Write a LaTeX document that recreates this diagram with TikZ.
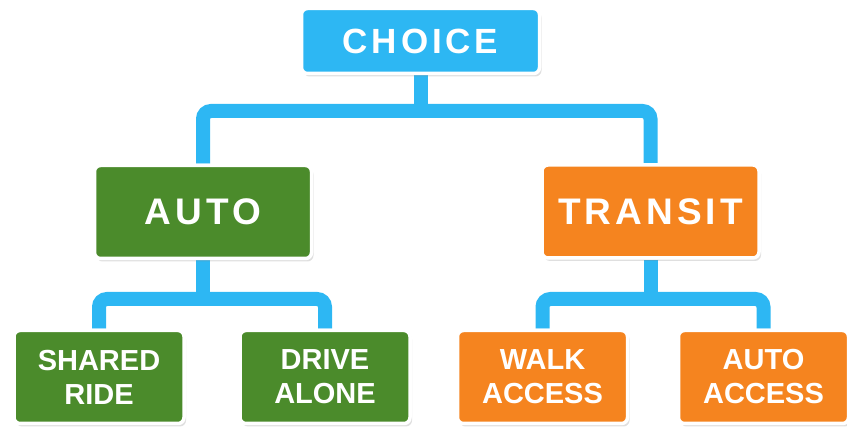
\documentclass[tikz,border=0pt]{standalone}
\usepackage{fontspec}
\setmainfont{Liberation Sans}
\newfontfamily\spaced{Liberation Sans}[LetterSpace=11]
\usetikzlibrary{backgrounds,shadows}
\definecolor{Sky}{HTML}{2DB7F3}
\definecolor{Leaf}{HTML}{4B8B2B}
\definecolor{Amber}{HTML}{F5841F}

\begin{document}
\begin{tikzpicture}[x=1pt,y=-1pt,
    box/.style={draw=white,line width=3.5pt,rounded corners=6pt,text=white,align=center,inner sep=0pt,
      drop shadow={opacity=.25,shadow xshift=2pt,shadow yshift=-3pt}},
    big/.style={box,minimum width=217pt,minimum height=93pt,font=\spaced\bfseries\fontsize{37}{44}\selectfont},
    small/.style={box,minimum width=170pt,minimum height=93pt,font=\bfseries\fontsize{29}{34}\selectfont},
    link/.style={draw=Sky,line width=14pt,rounded corners=8pt}]
  \useasboundingbox (0,0) rectangle (847,427);
  \node[big,fill=Sky,minimum width=238pt,minimum height=65pt,font=\spaced\bfseries\fontsize{35}{42}\selectfont] (choice) at (420.5,41) {CHOICE};
  \node[big,fill=Leaf] (auto) at (203,212) {AUTO};
  \node[big,fill=Amber] (transit) at (650.5,211.5) {TRANSIT};
  \node[small,fill=Leaf] (shared) at (99,377) {SHARED\\RIDE};
  \node[small,fill=Leaf] (drive) at (325,377) {DRIVE\\ALONE};
  \node[small,fill=Amber] (walk) at (542.5,377) {WALK\\ACCESS};
  \node[small,fill=Amber] (autoacc) at (763.5,377) {AUTO\\ACCESS};
  \coordinate (topbar) at (0,111);
  \coordinate (lowbar) at (0,299);
  \begin{scope}[on background layer]
    \draw[link] (auto.north) -- (auto.north |- topbar) -| (transit.north);
    \draw[link] (choice) -- (choice |- topbar);
    \draw[link] (shared.north) -- (shared.north |- lowbar) -| (drive.north);
    \draw[link] (auto) -- (auto |- lowbar);
    \draw[link] (walk.north) -- (walk.north |- lowbar) -| (autoacc.north);
    \draw[link] (transit) -- (transit |- lowbar);
  \end{scope}
\end{tikzpicture}
\end{document}
